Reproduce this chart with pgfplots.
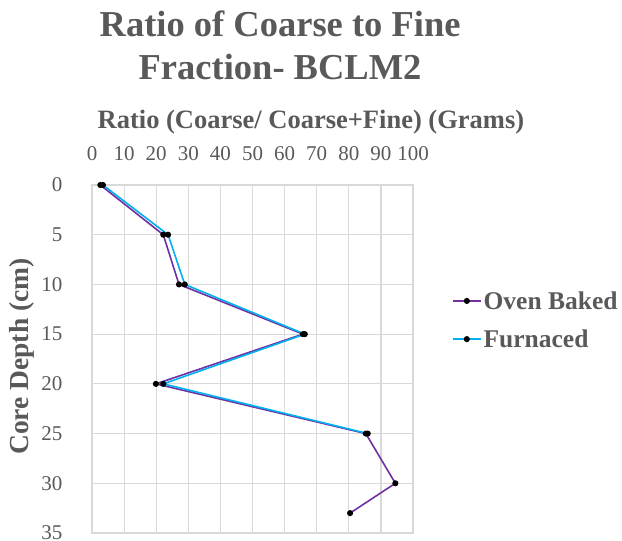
\documentclass[border=0pt]{standalone}
\usepackage{pgfplots}
\pgfplotsset{compat=1.18}
\usepackage{fontspec}
\setmainfont{Liberation Serif}
\definecolor{txtgray}{HTML}{595959}
\definecolor{gridgray}{HTML}{D9D9D9}
\definecolor{ovenpurple}{HTML}{7030A0}
\definecolor{furncyan}{HTML}{00B0F0}
\begin{document}
\begin{tikzpicture}[x=1pt,y=1pt]
\path[use as bounding box] (0,0) rectangle (622,541);
\begin{axis}[
  at={(92pt,8pt)}, anchor=south west,
  scale only axis, width=321pt, height=348pt,
  xmin=0, xmax=100, ymin=0, ymax=35,
  y dir=reverse,
  xtick={0,10,...,100}, ytick={0,5,...,35},
  xticklabel pos=top,
  grid=major,
  major grid style={gridgray, line width=1.2pt},
  axis line style={gridgray, line width=1.2pt},
  major tick length=0pt,
  /pgf/number format/assume math mode=true,
  tick label style={font=\fontsize{21}{24}\selectfont, text=txtgray},
  xticklabel style={yshift=21pt, inner xsep=0pt},
  yticklabel style={xshift=-26pt},
  xlabel={\textbf{Ratio (Coarse/ Coarse+Fine) (Grams)}},
  xlabel style={at={(axis description cs:0.682,1.181)}, anchor=center, font=\fontsize{26.5}{30}\selectfont, text=txtgray},
  ylabel={\textbf{Core Depth (cm)}},
  ylabel style={at={(axis description cs:-0.218,0.507)}, anchor=center, font=\fontsize{27.5}{30}\selectfont, text=txtgray},
  title={\textbf{Ratio of Coarse to Fine}\\\textbf{Fraction- BCLM2}},
  title style={at={(axis description cs:0.586,1.384)}, anchor=center, align=center, font=\fontsize{36.5}{43}\selectfont, text=txtgray},
  legend style={at={(axis description cs:1.121,0.612)}, anchor=west, draw=none, fill=none,
    font=\bfseries\fontsize{25.5}{29}\selectfont, text=txtgray, row sep=15pt,
    legend cell align=left, inner xsep=0pt},
  legend image code/.code={\draw[mark repeat=2,mark phase=2,#1] plot coordinates {(0pt,0pt)(14pt,0pt)(28pt,0pt)};},
  clip=false,
]
\addplot[ovenpurple, line width=1.6pt, mark=*, mark size=2.2pt, mark options={black, fill=black}]
  coordinates {(2.6,0) (22.2,5) (27.1,10) (65.7,15) (19.9,20) (85.3,25) (94.5,30) (80.4,33)};
\addlegendentry{Oven Baked}
\addplot[furncyan, line width=1.6pt, mark=*, mark size=2.2pt, mark options={black, fill=black}]
  coordinates {(3.4,0) (23.7,5) (28.9,10) (66.3,15) (22.2,20) (85.9,25)};
\addlegendentry{Furnaced}
\end{axis}
\end{tikzpicture}
\end{document}
